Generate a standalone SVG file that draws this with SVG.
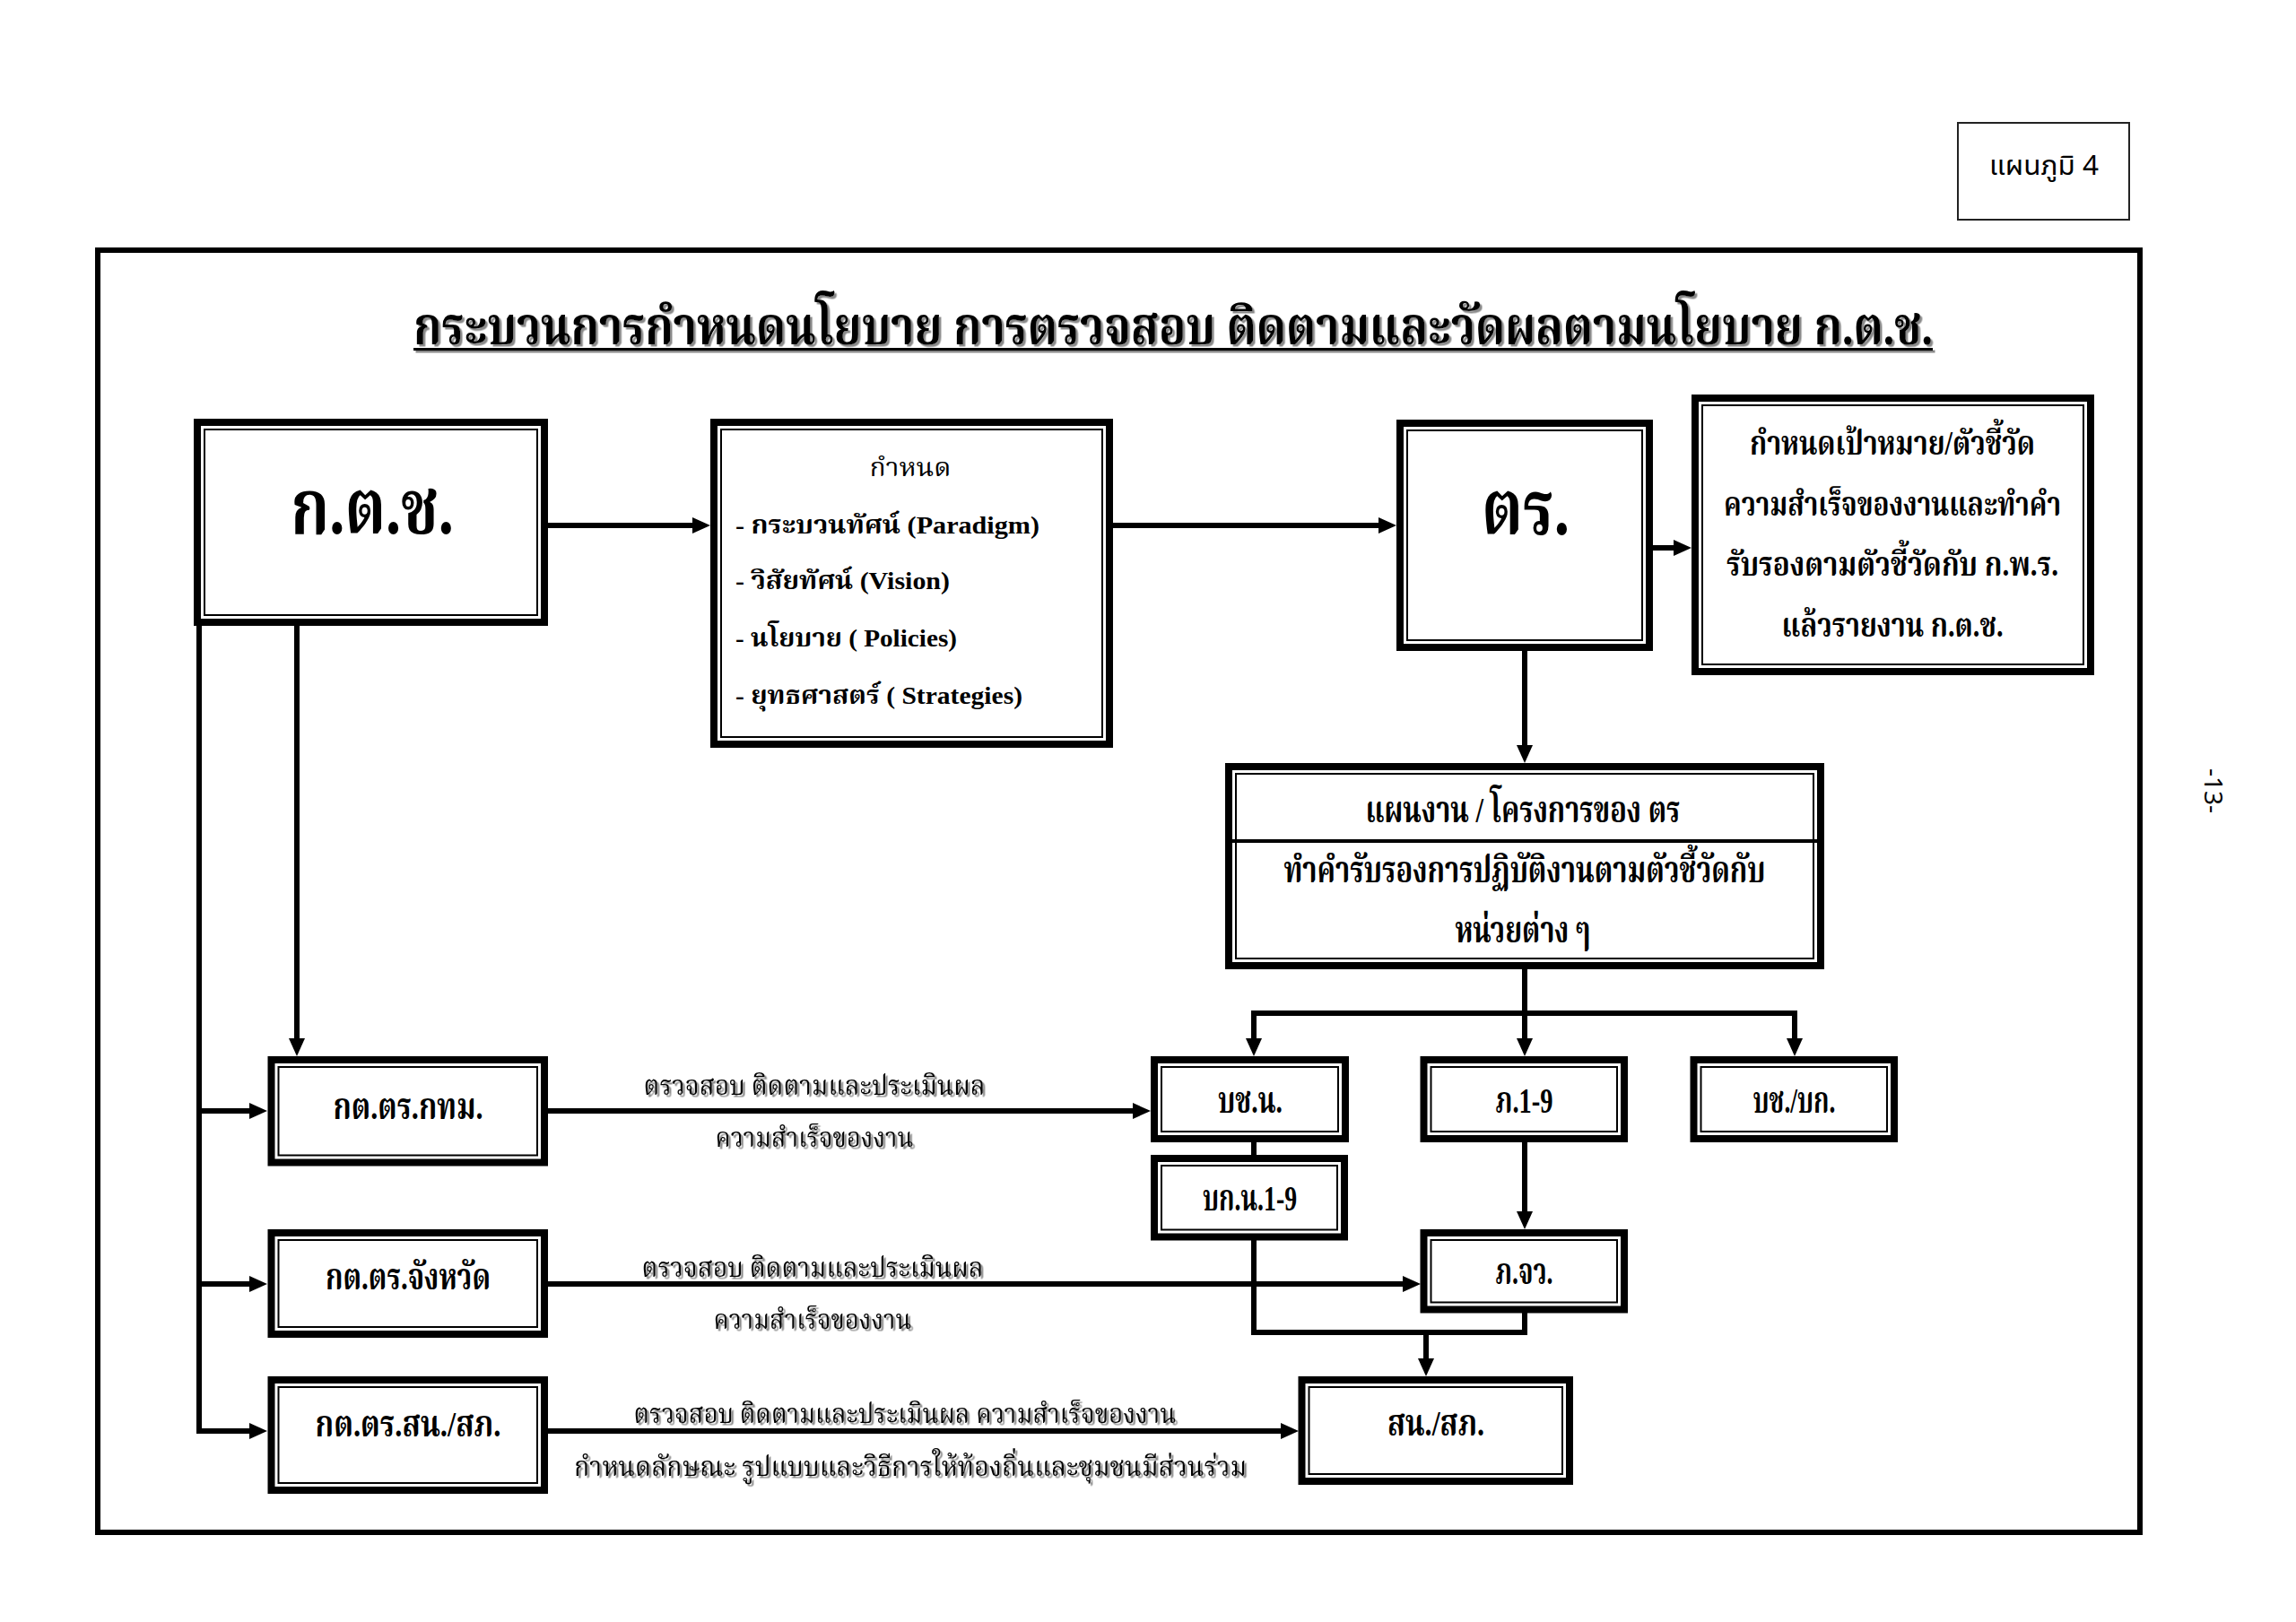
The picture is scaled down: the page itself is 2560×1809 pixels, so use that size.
<svg xmlns="http://www.w3.org/2000/svg" width="2560" height="1809" viewBox="0 0 2560 1809">
<defs>
<style>
.o{fill:#fff;stroke:#000;stroke-width:8}
.i{fill:none;stroke:#000;stroke-width:2}
.c{fill:none;stroke:#000;stroke-width:6}
.t{font-family:"Liberation Serif","Noto Serif Thai","Noto Sans Thai",serif;fill:#000;text-anchor:middle}
.b{font-weight:bold}
.big{font-size:86px}
.m{font-size:40px}
.s{font-size:28px}
.l{font-size:30px}
</style>
<marker id="ah" markerUnits="userSpaceOnUse" markerWidth="22" markerHeight="20" refX="10" refY="9" orient="auto" viewBox="0 0 22 20">
<path d="M0,0 L20,9 L0,18 Z" fill="#000"/>
</marker>
<filter id="sh" x="-5%" y="-20%" width="110%" height="150%">
<feDropShadow dx="2.5" dy="2.5" stdDeviation="0.6" flood-color="#8a8a8a" flood-opacity="1"/>
</filter>
</defs>
<rect x="0" y="0" width="2560" height="1809" fill="#fff"/>

<g id="page-label">
<rect x="2183" y="137" width="191" height="108" fill="none" stroke="#222" stroke-width="2"/>
<text x="2279" y="195" font-family="Noto Sans, Noto Sans Thai, sans-serif" font-size="31" text-anchor="middle" textLength="122" lengthAdjust="spacingAndGlyphs">แผนภูมิ 4</text>
</g>
<text id="page-number" transform="translate(2458,882) rotate(90)" font-family="Noto Sans, sans-serif" font-size="28" text-anchor="middle">-13-</text>

<rect id="frame" x="109" y="279" width="2277" height="1430" fill="none" stroke="#000" stroke-width="6"/>

<g id="title" filter="url(#sh)">
<text class="t b" x="1308" y="384" font-size="58" textLength="1694" lengthAdjust="spacingAndGlyphs">กระบวนการกำหนดนโยบาย การตรวจสอบ ติดตามและวัดผลตามนโยบาย ก.ต.ช.</text>
<line x1="461" y1="389.5" x2="2155" y2="389.5" stroke="#000" stroke-width="3"/>
</g>

<g id="connectors">
<line class="c" x1="611" y1="586" x2="782" y2="586" marker-end="url(#ah)"/>
<line class="c" x1="1241" y1="586" x2="1547" y2="586" marker-end="url(#ah)"/>
<line class="c" x1="1843" y1="611" x2="1876" y2="611" marker-end="url(#ah)"/>
<line class="c" x1="1700" y1="726" x2="1700" y2="841" marker-end="url(#ah)"/>
<line class="c" x1="1700" y1="1081" x2="1700" y2="1168" marker-end="url(#ah)"/>
<line class="c" x1="1395" y1="1130" x2="2004" y2="1130"/>
<line class="c" x1="1398" y1="1127" x2="1398" y2="1168" marker-end="url(#ah)"/>
<line class="c" x1="2001" y1="1127" x2="2001" y2="1168" marker-end="url(#ah)"/>
<line class="c" x1="1398" y1="1273" x2="1398" y2="1288"/>
<line class="c" x1="1700" y1="1274" x2="1700" y2="1361" marker-end="url(#ah)"/>
<polyline class="c" points="1398,1383 1398,1486 1700,1486 1700,1464"/>
<line class="c" x1="1590" y1="1486" x2="1590" y2="1525" marker-end="url(#ah)"/>
<line class="c" x1="222" y1="698" x2="222" y2="1599"/>
<line class="c" x1="219" y1="1239" x2="288" y2="1239" marker-end="url(#ah)"/>
<line class="c" x1="219" y1="1432" x2="288" y2="1432" marker-end="url(#ah)"/>
<line class="c" x1="219" y1="1596" x2="288" y2="1596" marker-end="url(#ah)"/>
<line class="c" x1="331" y1="698" x2="331" y2="1168" marker-end="url(#ah)"/>
<line class="c" x1="611" y1="1239" x2="1273" y2="1239" marker-end="url(#ah)"/>
<line class="c" x1="611" y1="1432" x2="1574" y2="1432" marker-end="url(#ah)"/>
<line class="c" x1="611" y1="1596" x2="1438" y2="1596" marker-end="url(#ah)"/>
<g filter="url(#sh)">
<text class="t l" x="908" y="1221" textLength="381" lengthAdjust="spacingAndGlyphs">ตรวจสอบ ติดตามและประเมินผล</text>
<text class="t l" x="908" y="1279" textLength="221" lengthAdjust="spacingAndGlyphs">ความสำเร็จของงาน</text>
<text class="t l" x="906" y="1424" textLength="381" lengthAdjust="spacingAndGlyphs">ตรวจสอบ ติดตามและประเมินผล</text>
<text class="t l" x="906" y="1482" textLength="221" lengthAdjust="spacingAndGlyphs">ความสำเร็จของงาน</text>
<text class="t l" x="1009" y="1587" textLength="605" lengthAdjust="spacingAndGlyphs">ตรวจสอบ ติดตามและประเมินผล ความสำเร็จของงาน</text>
<text class="t l" x="1015" y="1646" textLength="750" lengthAdjust="spacingAndGlyphs">กำหนดลักษณะ รูปแบบและวิธีการให้ท้องถิ่นและชุมชนมีส่วนร่วม</text>
</g>
</g>

<g id="n-kts">
<rect class="o" x="220" y="471" width="387" height="223"/>
<rect class="i" x="228" y="479" width="371" height="207"/>
<text class="t b big" x="415" y="595" textLength="182" lengthAdjust="spacingAndGlyphs">ก.ต.ช.</text>
</g>

<g id="n-define">
<rect class="o" x="796" y="471" width="441" height="359"/>
<rect class="i" x="804" y="479" width="425" height="343"/>
<text class="t s" x="1015" y="531" textLength="91" lengthAdjust="spacingAndGlyphs">กำหนด</text>
<text class="t s b" x="820" y="595" text-anchor="start" style="text-anchor:start" textLength="339" lengthAdjust="spacingAndGlyphs">- กระบวนทัศน์ (Paradigm)</text>
<text class="t s b" x="820" y="657" style="text-anchor:start" textLength="239" lengthAdjust="spacingAndGlyphs">- วิสัยทัศน์ (Vision)</text>
<text class="t s b" x="820" y="721" style="text-anchor:start" textLength="247" lengthAdjust="spacingAndGlyphs">- นโยบาย ( Policies)</text>
<text class="t s b" x="820" y="785" style="text-anchor:start" textLength="320" lengthAdjust="spacingAndGlyphs">- ยุทธศาสตร์ ( Strategies)</text>
</g>

<g id="n-tr">
<rect class="o" x="1561" y="472" width="278" height="250"/>
<rect class="i" x="1569" y="480" width="262" height="234"/>
<text class="t b big" x="1701" y="596" textLength="98" lengthAdjust="spacingAndGlyphs">ตร.</text>
</g>

<g id="n-goal">
<rect class="o" x="1890" y="444" width="441" height="305"/>
<rect class="i" x="1898" y="452" width="425" height="289"/>
<text class="t b" x="2110" y="507" font-size="38" textLength="318" lengthAdjust="spacingAndGlyphs">กำหนดเป้าหมาย/ตัวชี้วัด</text>
<text class="t b" x="2110" y="575" font-size="38" textLength="376" lengthAdjust="spacingAndGlyphs">ความสำเร็จของงานและทำคำ</text>
<text class="t b" x="2110" y="642" font-size="38" textLength="370" lengthAdjust="spacingAndGlyphs">รับรองตามตัวชี้วัดกับ ก.พ.ร.</text>
<text class="t b" x="2110" y="710" font-size="38" textLength="247" lengthAdjust="spacingAndGlyphs">แล้วรายงาน ก.ต.ช.</text>
</g>

<g id="n-plan">
<rect class="o" x="1370" y="855" width="660" height="222"/>
<rect class="i" x="1378" y="863" width="644" height="206"/>
<line x1="1374" y1="938" x2="2026" y2="938" stroke="#000" stroke-width="4"/>
<text class="t b m" x="1698" y="917" textLength="351" lengthAdjust="spacingAndGlyphs">แผนงาน / โครงการของ ตร</text>
<text class="t b m" x="1700" y="984" textLength="537" lengthAdjust="spacingAndGlyphs">ทำคำรับรองการปฏิบัติงานตามตัวชี้วัดกับ</text>
<text class="t b m" x="1698" y="1051" textLength="151" lengthAdjust="spacingAndGlyphs">หน่วยต่าง ๆ</text>
</g>

<g id="n-kt-bkk">
<rect class="o" x="302.5" y="1182" width="304.5" height="114.5"/>
<rect class="i" x="310.5" y="1190" width="288.5" height="98.5"/>
<text class="t b m" x="455" y="1248" textLength="167" lengthAdjust="spacingAndGlyphs">กต.ตร.กทม.</text>
</g>

<g id="n-kt-prov">
<rect class="o" x="302.5" y="1375" width="304.5" height="113"/>
<rect class="i" x="310.5" y="1383" width="288.5" height="97"/>
<text class="t b m" x="455" y="1438" textLength="184" lengthAdjust="spacingAndGlyphs">กต.ตร.จังหวัด</text>
</g>

<g id="n-kt-sn">
<rect class="o" x="302.5" y="1539" width="304.5" height="123"/>
<rect class="i" x="310.5" y="1547" width="288.5" height="107"/>
<text class="t b m" x="455" y="1602" textLength="207" lengthAdjust="spacingAndGlyphs">กต.ตร.สน./สภ.</text>
</g>

<g id="n-bcn">
<rect class="o" x="1287" y="1182" width="213" height="88"/>
<rect class="i" x="1295" y="1190" width="197" height="72"/>
<text class="t b m" x="1394" y="1241" textLength="72" lengthAdjust="spacingAndGlyphs">บช.น.</text>
</g>

<g id="n-bkn">
<rect class="o" x="1287" y="1292" width="212" height="87.5"/>
<rect class="i" x="1295" y="1300" width="196" height="71.5"/>
<text class="t b m" x="1393.5" y="1350" textLength="105" lengthAdjust="spacingAndGlyphs">บก.น.1-9</text>
</g>

<g id="n-p19">
<rect class="o" x="1587.5" y="1182" width="223.5" height="88"/>
<rect class="i" x="1595.5" y="1190" width="207.5" height="72"/>
<text class="t b m" x="1699.5" y="1241" textLength="64" lengthAdjust="spacingAndGlyphs">ภ.1-9</text>
</g>

<g id="n-bcbk">
<rect class="o" x="1888.5" y="1182" width="223.5" height="88"/>
<rect class="i" x="1896.5" y="1190" width="207.5" height="72"/>
<text class="t b m" x="2000.5" y="1241" textLength="92" lengthAdjust="spacingAndGlyphs">บช./บก.</text>
</g>

<g id="n-pjw">
<rect class="o" x="1587.5" y="1375" width="223.5" height="85.5"/>
<rect class="i" x="1595.5" y="1383" width="207.5" height="69.5"/>
<text class="t b m" x="1699.5" y="1432" textLength="64" lengthAdjust="spacingAndGlyphs">ภ.จว.</text>
</g>

<g id="n-snsp">
<rect class="o" x="1451.5" y="1539" width="298.5" height="113"/>
<rect class="i" x="1459.5" y="1547" width="282.5" height="97"/>
<text class="t b m" x="1601" y="1601" textLength="108" lengthAdjust="spacingAndGlyphs">สน./สภ.</text>
</g>
</svg>
